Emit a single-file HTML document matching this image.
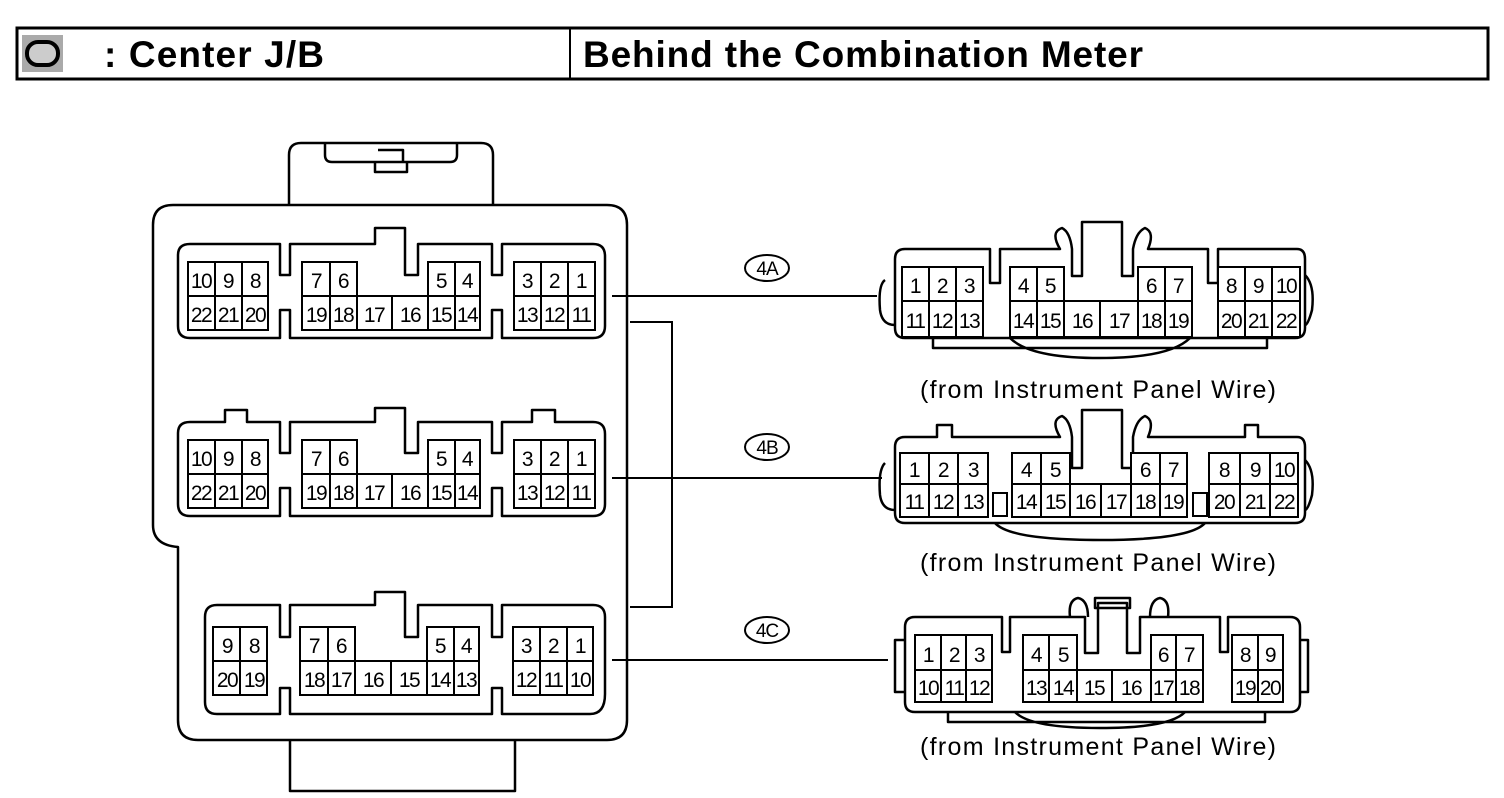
<!DOCTYPE html>
<html><head><meta charset="utf-8"><style>
html,body{margin:0;padding:0;background:#fff;width:1504px;height:798px;overflow:hidden}
svg{display:block}
.c rect{fill:#fff;stroke:#000;stroke-width:2}
.c text{font-family:"Liberation Sans",Arial,sans-serif;font-size:21px;text-anchor:middle;letter-spacing:-1.5px}
.o{fill:none;stroke:#000;stroke-width:2.5;stroke-linejoin:round}
.l{font-family:"Liberation Sans",Arial,sans-serif;font-size:25px}
</style></head><body>
<svg width="1504" height="798" viewBox="0 0 1504 798" xmlns="http://www.w3.org/2000/svg">
<!-- header -->
<rect x="17" y="28" width="1471" height="51" fill="none" stroke="#000" stroke-width="3"/>
<line x1="570" y1="28" x2="570" y2="79" stroke="#000" stroke-width="2"/>
<rect x="22" y="35" width="41" height="37" fill="#aaa"/>
<rect x="27" y="42" width="31" height="23" rx="11" fill="#ccc" stroke="#000" stroke-width="4"/>
<text x="104" y="67" font-family="Liberation Sans,Arial,sans-serif" font-weight="bold" font-size="37" textLength="220">: Center J/B</text>
<text x="583" y="67" font-family="Liberation Sans,Arial,sans-serif" font-weight="bold" font-size="37" textLength="560">Behind the Combination Meter</text>

<!-- J/B body -->
<path class="o" d="M289,205 V155 Q289,143 301,143 H481 Q493,143 493,155 V205"/>
<path class="o" d="M325,143 V155 Q325,162 332,162 H450 Q457,162 457,155 V143 M378,150 H403 V162 M375,162 V172 H407 V162"/>
<path class="o" d="M173,205 H607 Q627,205 627,225 V720 Q627,740 607,740 H198 Q178,740 178,720 V547 Q153,545 153,525 V225 Q153,205 173,205 Z"/>
<path class="o" d="M290,740 V791 H515 V740"/>

<!-- left connector shells -->
<g class="o">
<path d="M178,255 Q178,244 190,244 H280 V275 H290 V244 H375 V228 H405 V275 H418 V244 H492 V275 H502 V244 H593 Q605,244 605,256 V326 Q605,338 593,338 H502 V310 H492 V338 H290 V310 H280 V338 H190 Q178,338 178,326 Z"/>
<path d="M178,433 Q178,422 190,422 H225 V410 H247 V422 H280 V453 H290 V422 H375 V408 H405 V453 H418 V422 H492 V453 H502 V422 H532 V410 H555 V422 H593 Q605,422 605,434 V504 Q605,516 593,516 H502 V488 H492 V516 H290 V488 H280 V516 H190 Q178,516 178,504 Z"/>
<path d="M205,617 Q205,605 217,605 H280 V637 H290 V605 H375 V592 H405 V637 H418 V605 H492 V637 H502 V605 H593 Q605,605 605,617 V694 Q605,714 590,714 H502 V688 H492 V714 H290 V688 H280 V714 H217 Q205,714 205,702 Z"/>
</g>

<!-- lines -->
<g stroke="#000" stroke-width="2" fill="none">
<line x1="612" y1="296" x2="877" y2="296"/>
<line x1="612" y1="478" x2="882" y2="478"/>
<line x1="612" y1="660" x2="888" y2="660"/>
<polyline points="630,322 672,322 672,607 630,607"/>
</g>
<g font-family="Liberation Sans,Arial,sans-serif" font-size="19" text-anchor="middle" letter-spacing="-1">
<ellipse cx="767" cy="268" rx="22" ry="13" fill="none" stroke="#000" stroke-width="2"/><text x="767" y="275">4A</text>
<ellipse cx="767" cy="447" rx="22" ry="13" fill="none" stroke="#000" stroke-width="2"/><text x="767" y="454">4B</text>
<ellipse cx="767" cy="630" rx="22" ry="13" fill="none" stroke="#000" stroke-width="2"/><text x="767" y="637">4C</text>
</g>

<!-- Left A cells -->
<g class="c">
<rect x="188" y="262" width="27" height="34"/><text x="201" y="288">10</text>
<rect x="215" y="262" width="27" height="34"/><text x="228" y="288">9</text>
<rect x="242" y="262" width="26" height="34"/><text x="255" y="288">8</text>
<rect x="188" y="296" width="27" height="34"/><text x="201" y="322">22</text>
<rect x="215" y="296" width="27" height="34"/><text x="228" y="322">21</text>
<rect x="242" y="296" width="26" height="34"/><text x="255" y="322">20</text>
<rect x="302" y="262" width="28" height="34"/><text x="316" y="288">7</text>
<rect x="330" y="262" width="27" height="34"/><text x="343" y="288">6</text>
<rect x="428" y="262" width="27" height="34"/><text x="441" y="288">5</text>
<rect x="455" y="262" width="25" height="34"/><text x="467" y="288">4</text>
<rect x="302" y="296" width="28" height="34"/><text x="316" y="322">19</text>
<rect x="330" y="296" width="27" height="34"/><text x="343" y="322">18</text>
<rect x="357" y="296" width="35" height="34"/><text x="374" y="322">17</text>
<rect x="392" y="296" width="36" height="34"/><text x="410" y="322">16</text>
<rect x="428" y="296" width="27" height="34"/><text x="441" y="322">15</text>
<rect x="455" y="296" width="25" height="34"/><text x="467" y="322">14</text>
<rect x="514" y="262" width="27" height="34"/><text x="527" y="288">3</text>
<rect x="541" y="262" width="27" height="34"/><text x="554" y="288">2</text>
<rect x="568" y="262" width="27" height="34"/><text x="581" y="288">1</text>
<rect x="514" y="296" width="27" height="34"/><text x="527" y="322">13</text>
<rect x="541" y="296" width="27" height="34"/><text x="554" y="322">12</text>
<rect x="568" y="296" width="27" height="34"/><text x="581" y="322">11</text>
</g>
<!-- Left B cells -->
<g class="c" transform="translate(0,178)">
<rect x="188" y="262" width="27" height="34"/><text x="201" y="288">10</text>
<rect x="215" y="262" width="27" height="34"/><text x="228" y="288">9</text>
<rect x="242" y="262" width="26" height="34"/><text x="255" y="288">8</text>
<rect x="188" y="296" width="27" height="34"/><text x="201" y="322">22</text>
<rect x="215" y="296" width="27" height="34"/><text x="228" y="322">21</text>
<rect x="242" y="296" width="26" height="34"/><text x="255" y="322">20</text>
<rect x="302" y="262" width="28" height="34"/><text x="316" y="288">7</text>
<rect x="330" y="262" width="27" height="34"/><text x="343" y="288">6</text>
<rect x="428" y="262" width="27" height="34"/><text x="441" y="288">5</text>
<rect x="455" y="262" width="25" height="34"/><text x="467" y="288">4</text>
<rect x="302" y="296" width="28" height="34"/><text x="316" y="322">19</text>
<rect x="330" y="296" width="27" height="34"/><text x="343" y="322">18</text>
<rect x="357" y="296" width="35" height="34"/><text x="374" y="322">17</text>
<rect x="392" y="296" width="36" height="34"/><text x="410" y="322">16</text>
<rect x="428" y="296" width="27" height="34"/><text x="441" y="322">15</text>
<rect x="455" y="296" width="25" height="34"/><text x="467" y="322">14</text>
<rect x="514" y="262" width="27" height="34"/><text x="527" y="288">3</text>
<rect x="541" y="262" width="27" height="34"/><text x="554" y="288">2</text>
<rect x="568" y="262" width="27" height="34"/><text x="581" y="288">1</text>
<rect x="514" y="296" width="27" height="34"/><text x="527" y="322">13</text>
<rect x="541" y="296" width="27" height="34"/><text x="554" y="322">12</text>
<rect x="568" y="296" width="27" height="34"/><text x="581" y="322">11</text>
</g>
<!-- Left C cells -->
<g class="c" transform="translate(0,365)">
<rect x="213" y="262" width="27" height="34"/><text x="227" y="288">9</text>
<rect x="240" y="262" width="27" height="34"/><text x="254" y="288">8</text>
<rect x="213" y="296" width="27" height="34"/><text x="227" y="322">20</text>
<rect x="240" y="296" width="27" height="34"/><text x="254" y="322">19</text>
<rect x="300" y="262" width="28" height="34"/><text x="314" y="288">7</text>
<rect x="328" y="262" width="27" height="34"/><text x="341" y="288">6</text>
<rect x="427" y="262" width="27" height="34"/><text x="440" y="288">5</text>
<rect x="454" y="262" width="25" height="34"/><text x="466" y="288">4</text>
<rect x="300" y="296" width="28" height="34"/><text x="314" y="322">18</text>
<rect x="328" y="296" width="27" height="34"/><text x="341" y="322">17</text>
<rect x="355" y="296" width="36" height="34"/><text x="373" y="322">16</text>
<rect x="391" y="296" width="36" height="34"/><text x="409" y="322">15</text>
<rect x="427" y="296" width="27" height="34"/><text x="440" y="322">14</text>
<rect x="454" y="296" width="25" height="34"/><text x="466" y="322">13</text>
<rect x="513" y="262" width="27" height="34"/><text x="526" y="288">3</text>
<rect x="540" y="262" width="27" height="34"/><text x="553" y="288">2</text>
<rect x="567" y="262" width="26" height="34"/><text x="580" y="288">1</text>
<rect x="513" y="296" width="27" height="34"/><text x="526" y="322">12</text>
<rect x="540" y="296" width="27" height="34"/><text x="553" y="322">11</text>
<rect x="567" y="296" width="26" height="34"/><text x="580" y="322">10</text>
</g>

<!-- Right connector shells -->
<g class="o">
<path d="M895,259 Q895,249 905,249 H990 V283 H1000 V249 H1060 Q1050,232 1062,228 Q1070,232 1072,249 V276 H1082 V222 H1122 V276 H1133 V249 Q1136,232 1145,228 Q1155,232 1148,249 H1208 V283 H1218 V249 H1297 Q1305,249 1305,259 V328 Q1305,338 1295,338 H905 Q895,338 895,328 Z"/>
<path d="M885,280 Q878,285 880,310 Q882,325 895,325 M1305,275 Q1315,285 1312,310 Q1308,325 1305,325"/>
<path d="M933,338 V348 H1267 V338 M1010,338 Q1030,358 1100,358 Q1170,358 1190,338"/>
<path d="M895,447 Q895,437 905,437 H937 V425 H952 V437 H1060 Q1050,420 1062,416 Q1070,420 1072,437 V468 H1082 V410 H1122 V468 H1133 V437 Q1136,420 1145,416 Q1155,420 1148,437 H1245 V425 H1258 V437 H1297 Q1305,437 1305,447 V513 Q1305,523 1295,523 H905 Q895,523 895,513 Z"/>
<path d="M885,463 Q878,470 880,495 Q882,510 895,510 M1305,460 Q1315,470 1312,495 Q1308,510 1305,510"/>
<path d="M995,523 Q1010,540 1100,540 Q1190,540 1205,523"/>
<path d="M905,627 Q905,617 915,617 H1002 V652 H1010 V617 H1085 V653 H1098 V603 H1127 V653 H1140 V617 H1220 V652 H1228 V617 H1290 Q1300,617 1300,627 V702 Q1300,712 1290,712 H915 Q905,712 905,702 Z"/>
<path d="M1070,617 Q1068,600 1078,598 Q1088,600 1088,617 M1150,617 Q1150,600 1160,598 Q1170,600 1168,617 M1095,598 H1130 V608 H1095 Z"/>
<path d="M905,640 H895 V692 H905 M1300,640 H1308 V692 H1300 M948,712 V722 H1265 V712 M1015,712 Q1030,728 1100,728 Q1170,728 1185,712"/>
</g>
<g class="c">
<rect x="993" y="493" width="14" height="23"/><rect x="1193" y="493" width="14" height="23"/>
</g>

<!-- 4A cells -->
<g class="c">
<rect x="902" y="267" width="27" height="34"/><text x="915" y="293">1</text>
<rect x="929" y="267" width="27" height="34"/><text x="942" y="293">2</text>
<rect x="956" y="267" width="27" height="34"/><text x="969" y="293">3</text>
<rect x="902" y="301" width="27" height="36"/><text x="915" y="328">11</text>
<rect x="929" y="301" width="27" height="36"/><text x="942" y="328">12</text>
<rect x="956" y="301" width="27" height="36"/><text x="969" y="328">13</text>
<rect x="1010" y="267" width="27" height="34"/><text x="1023" y="293">4</text>
<rect x="1037" y="267" width="27" height="34"/><text x="1050" y="293">5</text>
<rect x="1138" y="267" width="27" height="34"/><text x="1151" y="293">6</text>
<rect x="1165" y="267" width="27" height="34"/><text x="1178" y="293">7</text>
<rect x="1010" y="301" width="27" height="36"/><text x="1023" y="328">14</text>
<rect x="1037" y="301" width="27" height="36"/><text x="1050" y="328">15</text>
<rect x="1064" y="301" width="36" height="36"/><text x="1082" y="328">16</text>
<rect x="1100" y="301" width="38" height="36"/><text x="1119" y="328">17</text>
<rect x="1138" y="301" width="27" height="36"/><text x="1151" y="328">18</text>
<rect x="1165" y="301" width="27" height="36"/><text x="1178" y="328">19</text>
<rect x="1218" y="267" width="27" height="34"/><text x="1231" y="293">8</text>
<rect x="1245" y="267" width="27" height="34"/><text x="1258" y="293">9</text>
<rect x="1272" y="267" width="28" height="34"/><text x="1286" y="293">10</text>
<rect x="1218" y="301" width="27" height="36"/><text x="1231" y="328">20</text>
<rect x="1245" y="301" width="27" height="36"/><text x="1258" y="328">21</text>
<rect x="1272" y="301" width="28" height="36"/><text x="1286" y="328">22</text>
</g>
<!-- 4B cells -->
<g class="c">
<rect x="900" y="453" width="29" height="31"/><text x="914" y="477">1</text>
<rect x="929" y="453" width="29" height="31"/><text x="943" y="477">2</text>
<rect x="958" y="453" width="30" height="31"/><text x="973" y="477">3</text>
<rect x="900" y="484" width="29" height="33"/><text x="914" y="509">11</text>
<rect x="929" y="484" width="29" height="33"/><text x="943" y="509">12</text>
<rect x="958" y="484" width="30" height="33"/><text x="973" y="509">13</text>
<rect x="1012" y="453" width="29" height="31"/><text x="1026" y="477">4</text>
<rect x="1041" y="453" width="29" height="31"/><text x="1055" y="477">5</text>
<rect x="1131" y="453" width="29" height="31"/><text x="1145" y="477">6</text>
<rect x="1160" y="453" width="27" height="31"/><text x="1173" y="477">7</text>
<rect x="1012" y="484" width="29" height="33"/><text x="1026" y="509">14</text>
<rect x="1041" y="484" width="29" height="33"/><text x="1055" y="509">15</text>
<rect x="1070" y="484" width="31" height="33"/><text x="1085" y="509">16</text>
<rect x="1101" y="484" width="30" height="33"/><text x="1116" y="509">17</text>
<rect x="1131" y="484" width="29" height="33"/><text x="1145" y="509">18</text>
<rect x="1160" y="484" width="27" height="33"/><text x="1173" y="509">19</text>
<rect x="1209" y="453" width="31" height="31"/><text x="1224" y="477">8</text>
<rect x="1240" y="453" width="30" height="31"/><text x="1255" y="477">9</text>
<rect x="1270" y="453" width="28" height="31"/><text x="1284" y="477">10</text>
<rect x="1209" y="484" width="31" height="33"/><text x="1224" y="509">20</text>
<rect x="1240" y="484" width="30" height="33"/><text x="1255" y="509">21</text>
<rect x="1270" y="484" width="28" height="33"/><text x="1284" y="509">22</text>
</g>
<!-- 4C cells -->
<g class="c">
<rect x="915" y="635" width="26" height="35"/><text x="928" y="662">1</text>
<rect x="941" y="635" width="25" height="35"/><text x="954" y="662">2</text>
<rect x="966" y="635" width="26" height="35"/><text x="979" y="662">3</text>
<rect x="915" y="670" width="26" height="32"/><text x="928" y="695">10</text>
<rect x="941" y="670" width="25" height="32"/><text x="954" y="695">11</text>
<rect x="966" y="670" width="26" height="32"/><text x="979" y="695">12</text>
<rect x="1023" y="635" width="26" height="35"/><text x="1036" y="662">4</text>
<rect x="1049" y="635" width="28" height="35"/><text x="1063" y="662">5</text>
<rect x="1151" y="635" width="25" height="35"/><text x="1163" y="662">6</text>
<rect x="1176" y="635" width="27" height="35"/><text x="1189" y="662">7</text>
<rect x="1023" y="670" width="26" height="32"/><text x="1036" y="695">13</text>
<rect x="1049" y="670" width="28" height="32"/><text x="1063" y="695">14</text>
<rect x="1077" y="670" width="35" height="32"/><text x="1094" y="695">15</text>
<rect x="1112" y="670" width="39" height="32"/><text x="1131" y="695">16</text>
<rect x="1151" y="670" width="25" height="32"/><text x="1163" y="695">17</text>
<rect x="1176" y="670" width="27" height="32"/><text x="1189" y="695">18</text>
<rect x="1232" y="635" width="26" height="35"/><text x="1245" y="662">8</text>
<rect x="1258" y="635" width="25" height="35"/><text x="1270" y="662">9</text>
<rect x="1232" y="670" width="26" height="32"/><text x="1245" y="695">19</text>
<rect x="1258" y="670" width="25" height="32"/><text x="1270" y="695">20</text>
</g>

<text class="l" x="920" y="398" textLength="356">(from Instrument Panel Wire)</text>
<text class="l" x="920" y="571" textLength="356">(from Instrument Panel Wire)</text>
<text class="l" x="920" y="755" textLength="356">(from Instrument Panel Wire)</text>
</svg>
</body></html>
